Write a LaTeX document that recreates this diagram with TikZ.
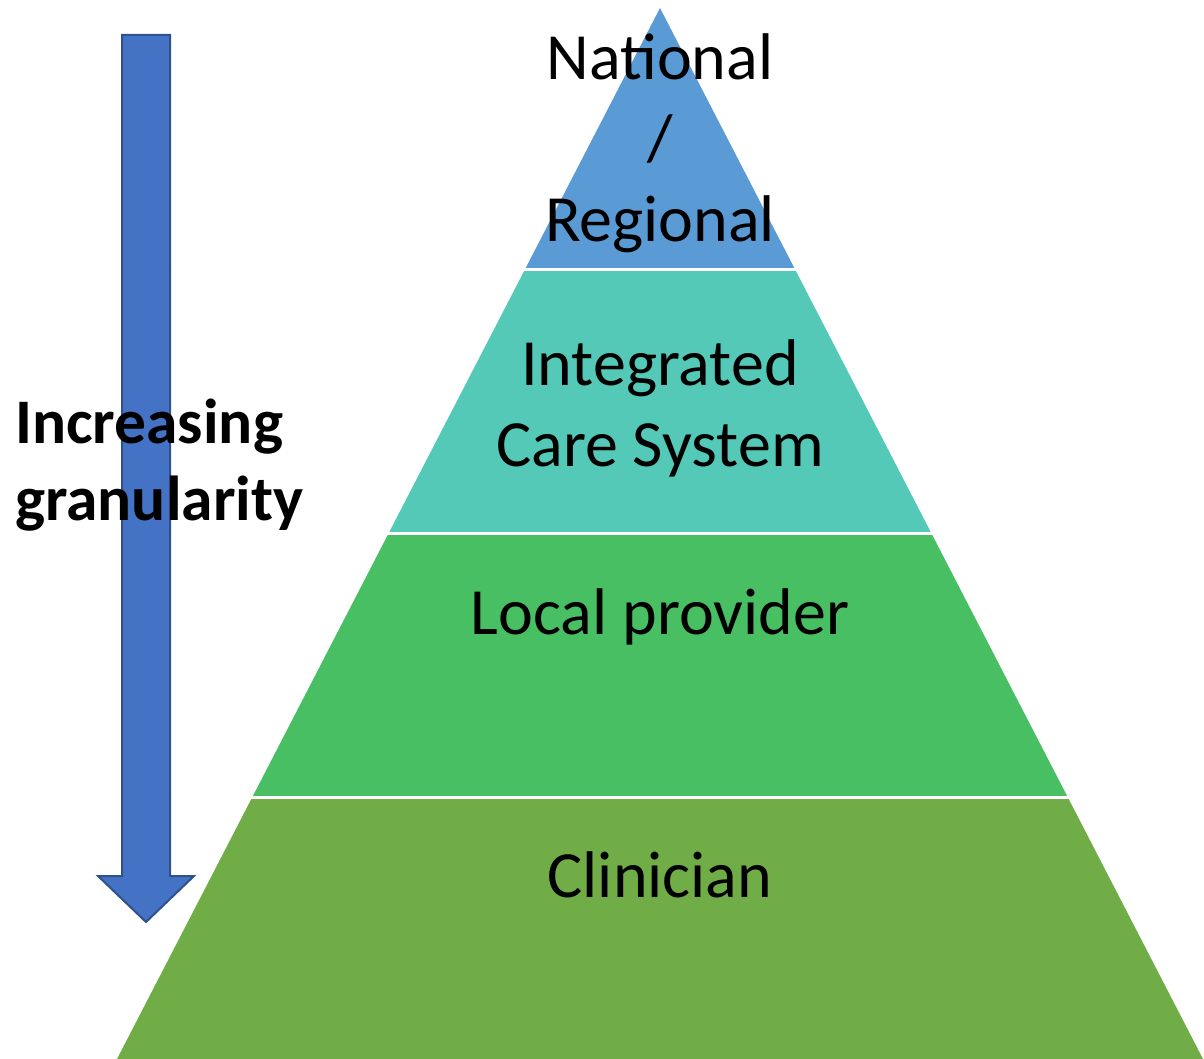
\documentclass[tikz,border=0pt]{standalone}
\usepackage{fontspec}
\setmainfont{Carlito}
\definecolor{lvlA}{HTML}{5B9BD5}
\definecolor{lvlB}{HTML}{54C9B8}
\definecolor{lvlC}{HTML}{49BF64}
\definecolor{lvlD}{HTML}{70AD47}
\definecolor{arrfill}{HTML}{4472C4}
\definecolor{arrline}{HTML}{2F528F}
\tikzset{
  lbl/.style={anchor=base, inner sep=0pt, font=\fontsize{66}{80}\selectfont},
  side/.style={anchor=base west, inner sep=0pt, align=left, font=\fontsize{63.5}{77}\selectfont\bfseries},
}
\begin{document}
\begin{tikzpicture}[x=1pt,y=-1pt]
\useasboundingbox (0,0) rectangle (1204,1059);
\coordinate (apex) at (660,8);
\coordinate (bl) at (117,1059);
\coordinate (br) at (1203,1059);
% bands
\foreach \ya/\yb/\col in {0/269.5/lvlA, 269.5/533.5/lvlB, 533.5/797.5/lvlC, 797.5/1059/lvlD}{
  \begin{scope}
    \clip (0,\ya) rectangle (1204,\yb);
    \fill[\col] (apex) -- (bl) -- (br) -- cycle;
  \end{scope}
}
\foreach \y in {269.5,533.5,797.5}{
  \draw[white, line width=2.5pt] (0,\y) -- (1204,\y);
}
% arrow
\draw[fill=arrfill, draw=arrline, line width=2pt, line join=miter]
  (122,35) -- (170,35) -- (170,876) -- (194,876) -- (146,922) -- (98,876) -- (122,876) -- cycle;
% labels
\node[lbl] (n1) at (660,80) {National};
\node[lbl] (n2) at (660,161) {/};
\node[lbl] (n3) at (660,242) {Regional};
\node[lbl] (i1) at (660,385) {Integrated};
\node[lbl] (i2) at (660,466) {Care System};
\node[lbl] (lp) at (660,634) {Local provider};
\node[lbl] (cl) at (660,897) {Clinician};
\node[side] (g1) at (15,443) {Increasing};
\node[side] (g2) at (15,520) {granularity};
\end{tikzpicture}
\end{document}
